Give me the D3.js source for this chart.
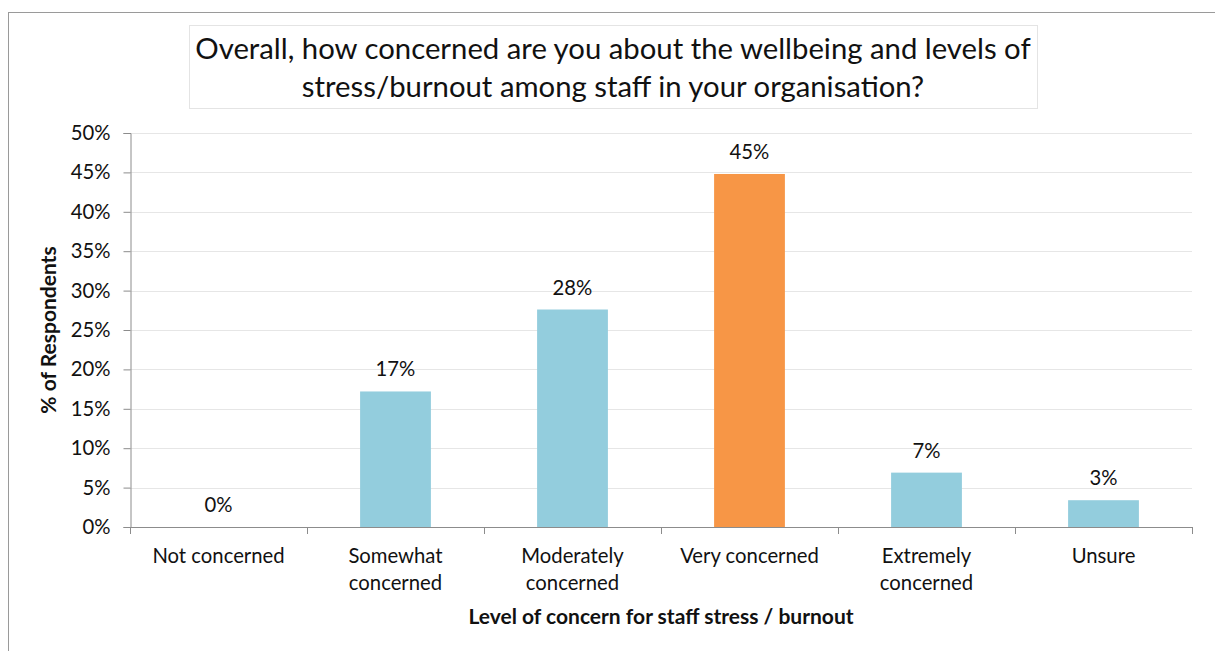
<!DOCTYPE html>
<html>
<head>
<meta charset="utf-8">
<script src="https://cdn.jsdelivr.net/npm/d3@7"></script>
<style>
  html, body { margin: 0; padding: 0; background: #fff; }
  svg { display: block; font-family: Lato, "Open Sans", sans-serif; }
</style>
</head>
<body>
<svg id="chart" width="1215" height="651"></svg>
<script>
// Survey responses: share of respondents per level of concern (%)
const categories = [
  ["Not concerned"],
  ["Somewhat", "concerned"],
  ["Moderately", "concerned"],
  ["Very concerned"],
  ["Extremely", "concerned"],
  ["Unsure"]
];
const values = [0, 17.2, 27.6, 44.8, 6.9, 3.4];
const highlight = [false, false, false, true, false, false];
const yTicks = [0, 5, 10, 15, 20, 25, 30, 35, 40, 45, 50];
const titleLines = [
  "Overall, how concerned are you about the wellbeing and levels of",
  "stress/burnout among staff in your organisation?"
];
const xTitle = "Level of concern for staff stress / burnout";
const yTitle = "% of Respondents";

const svg = d3.select("#chart");
const plot = { left: 130, right: 1192, top: 133, bottom: 527 };
const labelSize = 20.3;
const boldSize = 21;

// outer chart frame
svg.append("rect")
  .attr("x", 8.5).attr("y", 12.5)
  .attr("width", 1230).attr("height", 670)
  .attr("fill", "#fff").attr("stroke", "#9a9a9a").attr("stroke-width", 1);

// title box
svg.append("rect")
  .attr("x", 189.5).attr("y", 25.5)
  .attr("width", 848).attr("height", 83)
  .attr("fill", "#fff").attr("stroke", "#e4e4e4").attr("stroke-width", 1);

svg.append("g").selectAll("text").data(titleLines).join("text")
  .attr("x", 613).attr("y", (d, i) => 59 + i * 38)
  .attr("text-anchor", "middle")
  .attr("font-size", 29.3)
  .attr("fill", "#111")
  .text(d => d);

const x = d3.scaleBand()
  .domain(d3.range(categories.length))
  .range([plot.left, plot.right])
  .paddingInner(0.6).paddingOuter(0.3);

const y = d3.scaleLinear().domain([0, 50]).range([plot.bottom, plot.top]);

// gridlines
svg.append("g").selectAll("line").data(yTicks.filter(t => t > 0)).join("line")
  .attr("x1", plot.left).attr("x2", plot.right)
  .attr("y1", d => Math.round(y(d)) + 0.5).attr("y2", d => Math.round(y(d)) + 0.5)
  .attr("stroke", "#e6e6e6").attr("stroke-width", 1);

// bars
svg.append("g").selectAll("rect").data(values).join("rect")
  .attr("x", (d, i) => x(i))
  .attr("width", x.bandwidth())
  .attr("y", d => y(d))
  .attr("height", d => y(0) - y(d))
  .attr("fill", (d, i) => highlight[i] ? "#F79646" : "#93CDDD");

// value labels
const fmt = d => d3.format(".0f")(d) + "%";
svg.append("g").selectAll("text").data(values).join("text")
  .attr("x", (d, i) => x(i) + x.bandwidth() / 2)
  .attr("y", d => y(d) - 15)
  .attr("text-anchor", "middle")
  .attr("font-size", labelSize)
  .attr("fill", "#111")
  .text(fmt);

// y axis
const yAxis = d3.axisLeft(y)
  .tickValues(yTicks)
  .tickSize(7)
  .tickPadding(13)
  .tickFormat(d => d + "%");
const gy = svg.append("g")
  .attr("transform", `translate(${plot.left + 0.5},0)`)
  .call(yAxis);
gy.selectAll("path, line").attr("stroke", "#8c8c8c");
gy.selectAll("text").attr("font-size", labelSize).attr("fill", "#111")
  .attr("font-family", "Lato, sans-serif");

// x axis with tick marks at category boundaries
const boundaries = d3.range(categories.length + 1).map(i => plot.left + i * (plot.right - plot.left) / categories.length);
const gx = svg.append("g");
gx.append("line")
  .attr("x1", plot.left).attr("x2", plot.right)
  .attr("y1", plot.bottom + 0.5).attr("y2", plot.bottom + 0.5)
  .attr("stroke", "#8c8c8c");
gx.selectAll("line.tick").data(boundaries).join("line")
  .attr("class", "tick")
  .attr("x1", d => Math.round(d) + 0.5).attr("x2", d => Math.round(d) + 0.5)
  .attr("y1", plot.bottom).attr("y2", plot.bottom + 7)
  .attr("stroke", "#8c8c8c");

gx.selectAll("text.cat").data(categories).join("text")
  .attr("class", "cat")
  .attr("text-anchor", "middle")
  .attr("font-size", labelSize)
  .attr("fill", "#111")
  .attr("x", (d, i) => x(i) + x.bandwidth() / 2)
  .attr("y", 563)
  .each(function(d) {
    const t = d3.select(this);
    d.forEach((line, j) => {
      t.append("tspan")
        .attr("x", t.attr("x"))
        .attr("dy", j === 0 ? 0 : 27)
        .text(line);
    });
  });

// axis titles
svg.append("text")
  .attr("x", (plot.left + plot.right) / 2).attr("y", 624)
  .attr("text-anchor", "middle")
  .attr("font-size", boldSize).attr("font-weight", "bold").attr("fill", "#111")
  .text(xTitle);

svg.append("text")
  .attr("transform", `translate(56,${(plot.top + plot.bottom) / 2}) rotate(-90)`)
  .attr("text-anchor", "middle")
  .attr("font-size", boldSize).attr("font-weight", "bold").attr("fill", "#111")
  .text(yTitle);
</script>
</body>
</html>
